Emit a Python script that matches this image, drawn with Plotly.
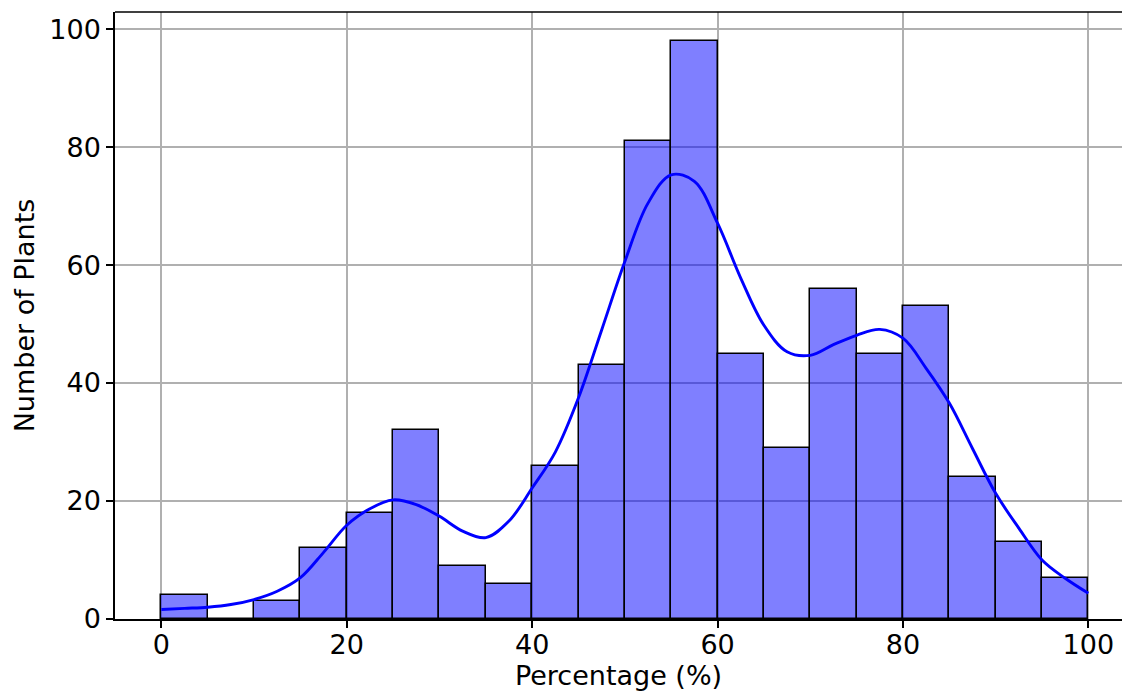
import plotly.graph_objects as go

# Histogram data (bin left edges, width 5)
bin_left = [0, 5, 10, 15, 20, 25, 30, 35, 40, 45, 50, 55, 60, 65, 70, 75, 80, 85, 90, 95]
counts = [4, 0, 3, 12, 18, 32, 9, 6, 26, 43, 81, 98, 45, 29, 56, 45, 53, 24, 13, 7]
bin_width = 5

# KDE curve (every 2.5 units)
kde_x = [0, 2.5, 5, 7.5, 10, 12.5, 15, 17.5, 20, 22.5, 25, 27.5, 30, 32.5, 35, 37.5, 40,
         42.5, 45, 47.5, 50, 52.5, 55, 57.5, 60, 62.5, 65, 67.5, 70, 72.5, 75, 77.5, 80,
         82.5, 85, 87.5, 90, 92.5, 95, 97.5, 100]
kde_y = [1.6, 1.8, 2.0, 2.45, 3.3, 4.7, 7.0, 11.3, 15.9, 18.7, 20.2, 19.4, 17.4, 14.9, 13.8, 16.6, 22.2,
         28.3, 37.5, 49.0, 60.6, 70.5, 75.3, 74.2, 67.1, 57.8, 49.8, 45.3, 44.7, 46.5, 48.1, 49.1, 47.6,
         42.5, 36.6, 28.9, 21.3, 15.4, 10.0, 6.9, 4.35]

x_ticks = [0, 20, 40, 60, 80, 100]
y_ticks = [0, 20, 40, 60, 80, 100]

FONT = "DejaVu Sans"
FS = 27

fig = go.Figure()
fig.add_trace(go.Bar(
    x=bin_left, y=counts, width=[bin_width] * len(bin_left), offset=0,
    marker=dict(color="rgba(0,0,255,0.5)", line=dict(color="black", width=1.5)),
    showlegend=False, hoverinfo="skip",
))
fig.add_trace(go.Scatter(
    x=kde_x, y=kde_y, mode="lines", line=dict(color="blue", width=2.9, shape="spline", smoothing=1.0),
    showlegend=False, hoverinfo="skip",
))

axis_common = dict(
    showgrid=True, gridcolor="#b0b0b0", gridwidth=1.5,
    showline=True, linecolor="black", linewidth=1.5,
    ticks="outside", ticklen=7, tickwidth=1.5, tickcolor="black",
    zeroline=False,
    tickfont=dict(family=FONT, size=FS, color="black"),
)

fig.update_layout(
    width=1122, height=691,
    margin=dict(l=115, r=0, t=12, b=72, pad=0),
    plot_bgcolor="white", paper_bgcolor="white",
    bargap=0,
    xaxis=dict(range=[-5, 103.63], tickvals=x_ticks, ticklabelstandoff=-6,
               title=dict(text="Percentage (%)", font=dict(family=FONT, size=FS, color="black"), standoff=8),
               **axis_common),
    yaxis=dict(range=[0, 102.9], tickvals=y_ticks,
               title=dict(text="Number of Plants", font=dict(family=FONT, size=FS, color="black"), standoff=7),
               **axis_common),
    shapes=[dict(type="line", xref="paper", yref="paper", x0=0, x1=1, y0=1, y1=1,
                 line=dict(color="black", width=1.5))],
)

fig.write_html("out.html")
